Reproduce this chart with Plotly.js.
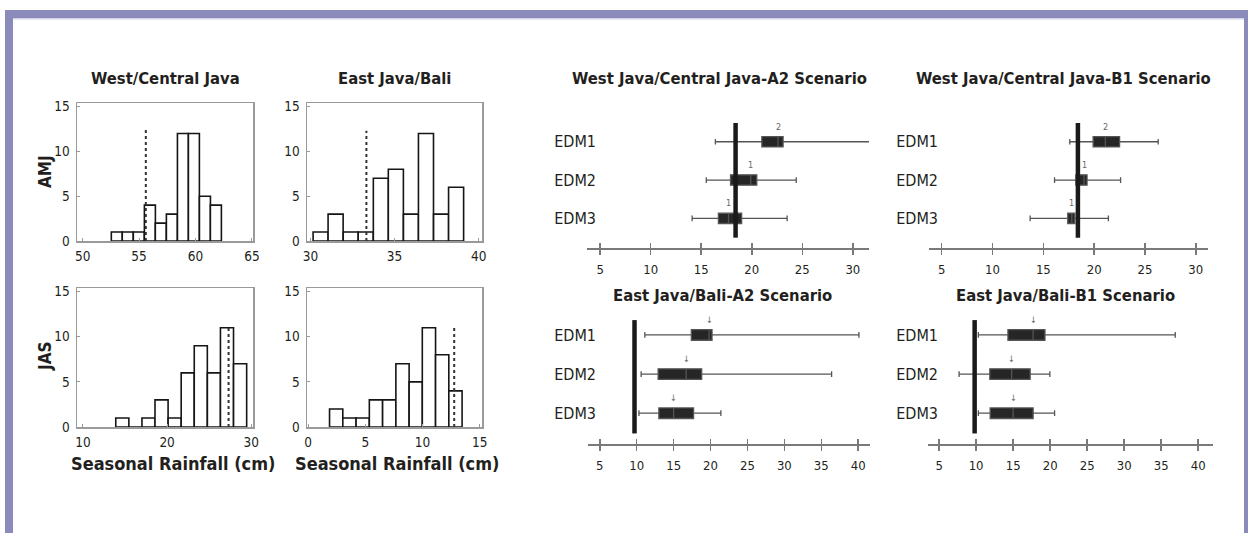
<!DOCTYPE html>
<html><head><meta charset="utf-8">
<script src="https://cdn.plot.ly/plotly-3.0.1.min.js"></script>
<style>html,body{margin:0;padding:0;background:#fff}#chart{width:1248px;height:533px}</style>
</head><body><div id="chart"></div>
<script>
// ---------- Histogram data (bin centres, counts, observed value) ----------
const wcAmjBins   = [53.03, 54.0, 54.98, 55.96, 56.93, 57.91, 58.89, 59.86, 60.84, 61.81];
const wcAmjCounts = [1, 1, 1, 4, 2, 3, 12, 12, 5, 4];
const wcAmjObs    = 55.6;
const ejAmjBins   = [30.61, 31.50, 32.40, 33.29, 34.19, 35.08, 35.98, 36.87, 37.77, 38.66];
const ejAmjCounts = [1, 3, 1, 1, 7, 8, 3, 12, 3, 6];
const ejAmjObs    = 33.33;
const wcJasBins   = [14.68, 16.23, 17.79, 19.34, 20.90, 22.45, 24.00, 25.56, 27.11, 28.67];
const wcJasCounts = [1, 0, 1, 3, 1, 6, 9, 6, 11, 7];
const wcJasObs    = 27.3;
const ejJasBins   = [2.45, 3.61, 4.77, 5.93, 7.09, 8.25, 9.41, 10.56, 11.72, 12.88];
const ejJasCounts = [2, 1, 1, 3, 3, 7, 5, 11, 8, 4];
const ejJasObs    = 12.77;
const histBinWidth = [0.976, 0.895, 1.554, 1.159];
const histXTicks = [[50, 55, 60, 65], [30, 35, 40], [10, 20, 30], [0, 5, 10, 15]];
const histYTicks = [0, 5, 10, 15];

// ---------- Box-plot data ----------
const models = ['EDM1', 'EDM2', 'EDM3'];
const wcA2Low = [16.4, 15.5, 14.1], wcA2Q1 = [21.0, 17.9, 16.7], wcA2Med = [22.6, 19.9, 17.7], wcA2Q3 = [23.1, 20.5, 19.0], wcA2High = [32.5, 24.4, 23.5];
const wcA2Obs = 18.4, wcA2Marks = ['2', '1', '1'];
const wcB1Low = [17.6, 16.1, 13.7], wcB1Q1 = [19.9, 18.2, 17.4], wcB1Med = [21.1, 19.0, 17.8], wcB1Q3 = [22.5, 19.3, 18.1], wcB1High = [26.3, 22.6, 21.4];
const wcB1Obs = 18.4, wcB1Marks = ['2', '1', '1'];
const ejA2Low = [11.1, 10.6, 10.3], ejA2Q1 = [17.4, 12.9, 13.0], ejA2Med = [19.8, 16.7, 15.0], ejA2Q3 = [20.2, 18.8, 17.7], ejA2High = [40.1, 36.4, 21.4];
const ejA2Obs = 9.7, ejA2Marks = ['↓', '↓', '↓'];
const ejB1Low = [10.3, 7.7, 10.3], ejB1Q1 = [14.3, 11.85, 11.9], ejB1Med = [17.7, 14.8, 15.0], ejB1Q3 = [19.3, 17.3, 17.7], ejB1High = [36.9, 19.96, 20.6];
const ejB1Obs = 9.8, ejB1Marks = ['↓', '↓', '↓'];
const boxTicksTop = [5, 10, 15, 20, 25, 30];
const boxTicksBottom = [5, 10, 15, 20, 25, 30, 35, 40];

// ---------- Layout helpers ----------
const W = 1248, H = 533;
const px = v => v / W;
const py = v => 1 - v / H;
const FONT = "'Liberation Sans Narrow', 'DejaVu Sans Condensed', 'Arial Narrow', sans-serif";
const INK = '#231f20';
const TITLE_SIZE = 16.5;

const traces = [];
const shapes = [];
const annotations = [];
const layout = {
  width: W, height: H, margin: {l: 0, r: 0, t: 0, b: 0},
  paper_bgcolor: '#fff', plot_bgcolor: 'rgba(0,0,0,0)', showlegend: false,
  font: {family: FONT, color: INK, size: 14}
};

// Histograms
const hists = [
  {bins: wcAmjBins, counts: wcAmjCounts, obs: wcAmjObs, obsTop: 12.4, xr: [49.5, 65.1], dom: [77, 253, 103, 241], title: 'West/Central Java'},
  {bins: ejAmjBins, counts: ejAmjCounts, obs: ejAmjObs, obsTop: 12.3, xr: [29.8, 40.2], dom: [307, 482, 103, 241], title: 'East Java/Bali'},
  {bins: wcJasBins, counts: wcJasCounts, obs: wcJasObs, obsTop: 11.2, xr: [9.3, 30.2], dom: [77, 253, 288, 427]},
  {bins: ejJasBins, counts: ejJasCounts, obs: ejJasObs, obsTop: 11.2, xr: [-0.1, 15.2], dom: [307, 482, 288, 427]}
];
hists.forEach((h, i) => {
  const n = i + 1, xs = n === 1 ? '' : n, ax = 'x' + xs, ay = 'y' + xs;
  traces.push({
    type: 'bar', x: h.bins, y: h.counts, width: histBinWidth[i], xaxis: ax, yaxis: ay,
    marker: {color: '#fff', line: {color: '#151515', width: 1.6}}, hoverinfo: 'x+y'
  });
  shapes.push({type: 'line', xref: ax, yref: ay, x0: h.obs, x1: h.obs, y0: 0, y1: h.obsTop,
    line: {color: '#333', width: 2, dash: 'dot'}});
  const axCommon = {showgrid: false, zeroline: false, showline: true, mirror: true, linecolor: '#9a9a9a', linewidth: 1.5,
    ticks: 'inside', ticklen: 3, tickcolor: '#9a9a9a', tickfont: {family: FONT, size: 13.5, color: INK}, fixedrange: true};
  layout['xaxis' + xs] = Object.assign({}, axCommon, {domain: [px(h.dom[0]), px(h.dom[1])], range: h.xr, anchor: ay,
    tickmode: 'array', tickvals: histXTicks[i], ticklabelstandoff: 2});
  layout['yaxis' + xs] = Object.assign({}, axCommon, {domain: [py(h.dom[3]), py(h.dom[2])], range: [0, 15.4], anchor: ax,
    tickmode: 'array', tickvals: histYTicks, ticklabelstandoff: 3});
  if (h.title) annotations.push({xref: 'paper', yref: 'paper', x: px((h.dom[0] + h.dom[1]) / 2), y: py(78), xanchor: 'center', yanchor: 'middle',
    text: '<b>' + h.title + '</b>', showarrow: false, font: {family: FONT, size: TITLE_SIZE, color: INK}});
});
annotations.push({xref: 'paper', yref: 'paper', x: px(45), y: py(171), textangle: -90, xanchor: 'center', yanchor: 'middle',
  text: '<b>AMJ</b>', showarrow: false, font: {family: FONT, size: 17, color: INK}});
annotations.push({xref: 'paper', yref: 'paper', x: px(45), y: py(356), textangle: -90, xanchor: 'center', yanchor: 'middle',
  text: '<b>JAS</b>', showarrow: false, font: {family: FONT, size: 17, color: INK}});
[173, 397].forEach(cx => annotations.push({xref: 'paper', yref: 'paper', x: px(cx), y: py(463), xanchor: 'center', yanchor: 'middle',
  text: '<b>Seasonal Rainfall (cm)</b>', showarrow: false, font: {family: FONT, size: 18, color: INK}}));

// Box-plot panels
const boxes = [
  {low: wcA2Low, q1: wcA2Q1, med: wcA2Med, q3: wcA2Q3, high: wcA2High, obs: wcA2Obs, marks: wcA2Marks, xr: [3.7, 31.6], ticks: boxTicksTop,
   dom: [587, 869, 118, 248], yr: [-0.775, 2.62], lab: 596, title: 'West Java/Central Java-A2 Scenario', tx: 720, ty: 78},
  {low: wcB1Low, q1: wcB1Q1, med: wcB1Med, q3: wcB1Q3, high: wcB1High, obs: wcB1Obs, marks: wcB1Marks, xr: [3.7, 31.2], ticks: boxTicksTop,
   dom: [928.5, 1208, 118, 248], yr: [-0.775, 2.62], lab: 938, title: 'West Java/Central Java-B1 Scenario', tx: 1063, ty: 78},
  {low: ejA2Low, q1: ejA2Q1, med: ejA2Med, q3: ejA2Q3, high: ejA2High, obs: ejA2Obs, marks: ejA2Marks, xr: [3.4, 41.6], ticks: boxTicksBottom,
   dom: [588, 870, 315, 444], yr: [-0.787, 2.51], lab: 596, title: 'East Java/Bali-A2 Scenario', tx: 722, ty: 295},
  {low: ejB1Low, q1: ejB1Q1, med: ejB1Med, q3: ejB1Q3, high: ejB1High, obs: ejB1Obs, marks: ejB1Marks, xr: [3.5, 42.0], ticks: boxTicksBottom,
   dom: [928, 1213, 315, 444], yr: [-0.787, 2.51], lab: 938, title: 'East Java/Bali-B1 Scenario', tx: 1065, ty: 295}
];
boxes.forEach((b, i) => {
  const n = i + 5, ax = 'x' + n, ay = 'y' + n, ov = 'x' + (n + 4);
  traces.push({
    type: 'box', orientation: 'h', y: models, q1: b.q1, median: b.med, q3: b.q3, lowerfence: b.low, upperfence: b.high,
    xaxis: ax, yaxis: ay, width: 0.27, whiskerwidth: 0.55, boxpoints: false,
    fillcolor: '#262626', line: {color: '#555', width: 1.3}, hoverinfo: 'x'
  });
  traces.push({type: 'scatter', x: [], y: [], xaxis: ov, yaxis: ay, hoverinfo: 'skip'});
  shapes.push({type: 'line', xref: ax, yref: ay, x0: b.obs, x1: b.obs, y0: b.yr[0] + 0.27, y1: b.yr[1] - 0.13,
    line: {color: '#1a1a1a', width: 4.5}});
  models.forEach((m, k) => annotations.push({xref: ax, yref: ay, x: b.med[k], y: m, yshift: 15, text: b.marks[k],
    showarrow: false, font: {family: FONT, size: 9, color: '#666'}}));
  layout['xaxis' + n] = {domain: [px(b.dom[0]), px(b.dom[1])], range: b.xr, anchor: ay, showgrid: false, zeroline: false,
    showline: true, linecolor: '#7a7a7a', linewidth: 1.5, ticks: 'outside', ticklen: 5, tickwidth: 1.5, tickcolor: '#7a7a7a',
    tickmode: 'array', tickvals: b.ticks, ticklabelstandoff: 4, tickfont: {family: FONT, size: 13, color: INK}, fixedrange: true};
  layout['xaxis' + (n + 4)] = {overlaying: ax, anchor: ay, range: b.xr, showgrid: false, zeroline: false, showline: false,
    ticks: 'inside', ticklen: 5, tickwidth: 1.5, tickcolor: '#7a7a7a', tickmode: 'array', tickvals: b.ticks,
    showticklabels: false, fixedrange: true};
  layout['yaxis' + n] = {domain: [py(b.dom[3]), py(b.dom[2])], range: b.yr, anchor: 'free', position: px(b.lab),
    type: 'category', categoryorder: 'array', categoryarray: ['EDM3', 'EDM2', 'EDM1'], showgrid: false, zeroline: false,
    showline: false, ticks: '', tickfont: {family: FONT, size: 16, color: INK}, fixedrange: true};
  annotations.push({xref: 'paper', yref: 'paper', x: px(b.tx), y: py(b.ty), xanchor: 'center', yanchor: 'middle',
    text: '<b>' + b.title + '</b>', showarrow: false, font: {family: FONT, size: TITLE_SIZE, color: INK}});
});

// Page frame
const frame = '#8a8abb';
shapes.push({type: 'rect', xref: 'paper', yref: 'paper', x0: px(5), x1: 1, y0: py(18), y1: py(10), fillcolor: frame, line: {width: 0}, layer: 'below'});
shapes.push({type: 'rect', xref: 'paper', yref: 'paper', x0: px(13), x1: px(1244), y0: py(19.5), y1: py(18), fillcolor: '#d3d3e8', line: {width: 0}, layer: 'below'});
shapes.push({type: 'rect', xref: 'paper', yref: 'paper', x0: px(5), x1: px(13), y0: 0, y1: py(10), fillcolor: frame, line: {width: 0}, layer: 'below'});
shapes.push({type: 'rect', xref: 'paper', yref: 'paper', x0: px(1244), x1: 1, y0: 0, y1: py(10), fillcolor: frame, line: {width: 0}, layer: 'below'});

layout.shapes = shapes;
layout.annotations = annotations;
Plotly.newPlot('chart', traces, layout, {staticPlot: true});
</script>
</body></html>
